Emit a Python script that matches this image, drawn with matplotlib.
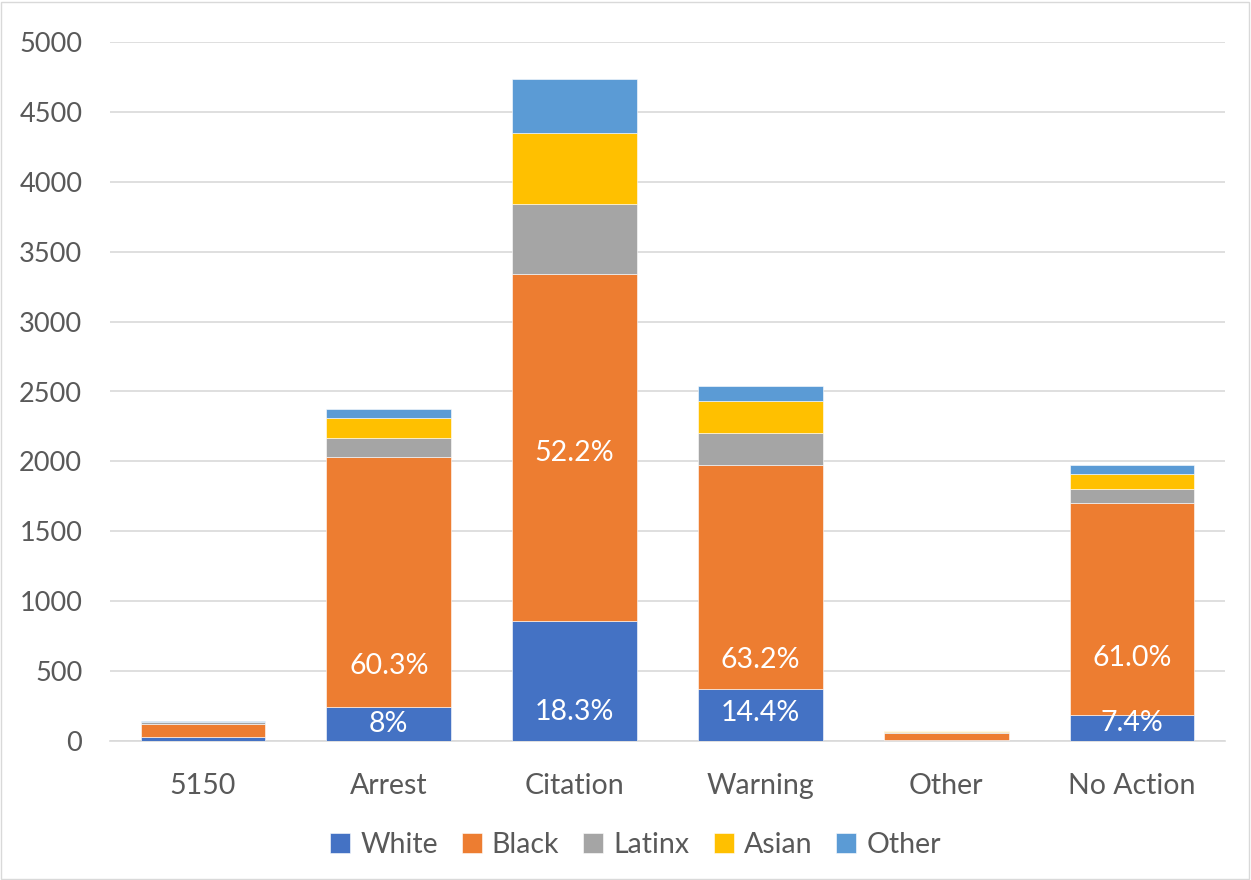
import numpy as np
import matplotlib.pyplot as plt
from matplotlib.patches import Rectangle

categories = ["5150", "Arrest", "Citation", "Warning", "Other", "No Action"]
groups = ["White", "Black", "Latinx", "Asian", "Other"]

white = [28, 243, 858, 372, 5, 186]
black = [95, 1788, 2482, 1602, 52, 1516]
latinx = [10, 139, 501, 229, 7, 103]
asian = [6, 140, 508, 229, 4, 105]
other = [4, 65, 386, 107, 3, 66]

# percentage labels inside the White and Black segments, with their anchor heights
white_labels = ["", "8%", "18.3%", "14.4%", "", "7.4%"]
white_label_y = [0, 122, 207, 200, 0, 129]
black_labels = ["", "60.3%", "52.2%", "63.2%", "", "61.0%"]
black_label_y = [0, 536, 2060, 579, 0, 594]

colors = ["#4472c4", "#ed7d31", "#a5a5a5", "#ffc000", "#5b9bd5"]


def main() -> None:
    plt.rcParams["font.family"] = ["Lato", "DejaVu Sans"]
    fig = plt.figure(figsize=(12.51, 8.8), dpi=100)
    ax = fig.add_axes([110 / 1251, 1 - 741 / 880, 1115 / 1251, 699 / 880])

    x = np.arange(len(categories))
    series = [white, black, latinx, asian, other]
    bottom = np.zeros(len(categories))
    for vals, col, name in zip(series, colors, groups):
        ax.bar(x, vals, 0.67, bottom=bottom, color=col, label=name,
               edgecolor="white", linewidth=0.4, zorder=3)
        bottom += np.array(vals)

    for i in range(len(categories)):
        if white_labels[i]:
            ax.text(x[i], white_label_y[i], white_labels[i], ha="center", va="center",
                    color="white", fontsize=20.5, zorder=4)
        if black_labels[i]:
            ax.text(x[i], black_label_y[i], black_labels[i], ha="center", va="center",
                    color="white", fontsize=20.5, zorder=4)

    ax.set_xlim(-0.5, len(categories) - 0.5)
    ax.set_ylim(0, 5000)
    ax.set_yticks(np.arange(0, 5001, 500))
    ax.set_xticks(x)
    ax.set_xticklabels(categories)
    ax.yaxis.grid(True, color="#d9d9d9", linewidth=1.2, zorder=0)
    for s in ["top", "right", "left"]:
        ax.spines[s].set_visible(False)
    ax.spines["bottom"].set_color("#d9d9d9")
    ax.spines["bottom"].set_linewidth(1.2)
    ax.tick_params(axis="both", length=0, colors="#595959")
    ax.tick_params(axis="x", labelsize=20.5, pad=23)
    ax.tick_params(axis="y", labelsize=19.5, pad=20)

    handles, labels = ax.get_legend_handles_labels()
    fig.legend(handles, labels, loc="center", bbox_to_anchor=(0.508, 0.04), ncol=5,
               frameon=False, fontsize=20.5, handlelength=0.7, handleheight=0.7,
               handletextpad=0.35, columnspacing=0.85, labelcolor="#595959")

    fig.patches.append(Rectangle((0.0005, 0.001), 0.998, 0.997, transform=fig.transFigure,
                                 fill=False, edgecolor="#d9d9d9", linewidth=1))
    fig.savefig("out.png", dpi=100)


if __name__ == "__main__":
    main()
